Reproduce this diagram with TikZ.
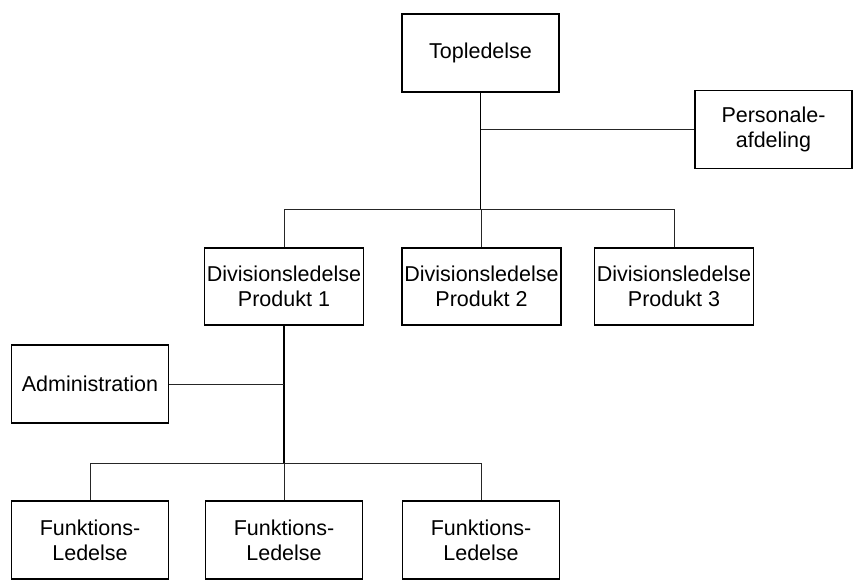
\documentclass[tikz,border=0pt]{standalone}
\usepackage{fontspec}
\setmainfont{Liberation Sans}
\begin{document}
\begin{tikzpicture}[x=1pt,y=-1pt,
  unit/.style={draw, line width=1.3pt, minimum width=157pt, minimum height=78pt,
    inner sep=0pt, align=center, font=\fontsize{21.5}{25}\selectfont},
  trunk/.style={line width=1.6pt},
  branch/.style={line width=0.9pt, black!85}]
\useasboundingbox (0,0) rectangle (854,586);

% boxes
\node[unit] (top)  at (480.5,53)  {Topledelse};
\node[unit] (pers) at (773.5,129.5) {Personale-\\afdeling};
\node[unit, minimum width=159pt, minimum height=77pt] (div1) at (284,286.5) {Divisionsledelse\\Produkt 1};
\node[unit, minimum width=159pt, minimum height=77pt] (div2) at (481.5,286.5) {Divisionsledelse\\Produkt 2};
\node[unit, minimum width=159pt, minimum height=77pt] (div3) at (674,286.5) {Divisionsledelse\\Produkt 3};
\node[unit] (adm) at (90,384) {Administration};
\node[unit] (f1) at (90,540)  {Funktions-\\Ledelse};
\node[unit] (f2) at (284,540) {Funktions-\\Ledelse};
\node[unit] (f3) at (481,540) {Funktions-\\Ledelse};

% bus levels
\coordinate (bus1) at (0,209);
\coordinate (bus2) at (0,463);

% upper level
\draw[trunk] (top.south) -- (top.south |- bus1);
\draw[branch] (top.south |- pers.west) -- (pers.west);
\draw[branch] (div1.north) -- (div1.north |- bus1) -- (div3.north |- bus1) -- (div3.north);
\draw[branch] (div2.north) -- (div2.north |- bus1);

% lower level
\draw[trunk] (div1.south) -- (div1.south |- bus2);
\draw[branch] (adm.east) -- (adm.east -| div1.south);
\draw[branch] (f1.north) -- (f1.north |- bus2) -- (f3.north |- bus2) -- (f3.north);
\draw[branch] (f2.north) -- (f2.north |- bus2);
\end{tikzpicture}
\end{document}
